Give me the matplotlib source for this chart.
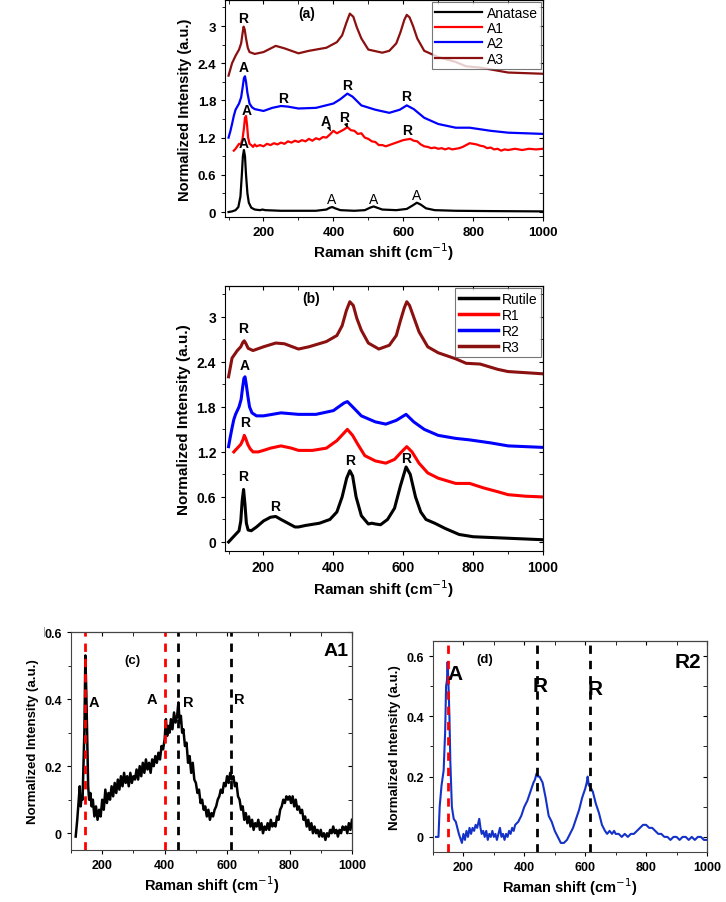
import matplotlib
matplotlib.use('Agg')
import matplotlib.pyplot as plt
from matplotlib.ticker import MultipleLocator, FuncFormatter

plt.rcParams['font.family'] = ['Liberation Sans', 'DejaVu Sans']

# ---- panel (a) ----
anatase_x = [100, 110, 120, 128, 134, 138, 141, 144, 147, 150, 154, 158, 165, 175, 190, 197, 205, 250, 300, 350,
             380, 390, 397, 405, 420, 460, 490, 505, 515, 525, 540, 580, 610, 625, 639, 650, 665, 690, 750, 850, 1000]
anatase_y = [0.0, 0.01, 0.03, 0.08, 0.25, 0.6, 0.9, 1.0, 0.9, 0.6, 0.3, 0.15, 0.07, 0.04, 0.03, 0.04, 0.03, 0.02, 0.02, 0.02,
             0.04, 0.07, 0.08, 0.06, 0.03, 0.02, 0.03, 0.07, 0.09, 0.07, 0.04, 0.03, 0.05, 0.10, 0.15, 0.12, 0.06, 0.03, 0.02, 0.015, 0.01]

a1_x = [115, 120, 125, 130, 135, 140, 144, 147, 150, 153, 156, 160, 165, 170, 175, 180, 190, 200, 210, 220,
        230, 240, 250, 260, 270, 280, 290, 300, 310, 320, 330, 340, 350, 360, 370, 380, 390, 400, 410, 420,
        430, 440, 450, 460, 470, 480, 490, 500, 510, 520, 530, 540, 550, 560, 570, 580, 590, 600, 610, 620,
        630, 640, 650, 660, 670, 680, 690, 700, 710, 720, 730, 740, 750, 760, 770, 780, 790, 800, 810, 820,
        830, 840, 850, 860, 870, 880, 890, 900, 920, 940, 960, 980, 1000]
a1_y = [0.99, 1.02, 1.06, 1.10, 1.09, 1.18, 1.35, 1.52, 1.55, 1.40, 1.20, 1.10, 1.08, 1.05, 1.09, 1.06, 1.08, 1.06, 1.10, 1.08,
        1.11, 1.09, 1.12, 1.10, 1.14, 1.12, 1.15, 1.13, 1.16, 1.14, 1.18, 1.15, 1.19, 1.17, 1.21, 1.20, 1.25, 1.31, 1.27, 1.30,
        1.33, 1.37, 1.32, 1.31, 1.26, 1.27, 1.20, 1.18, 1.14, 1.13, 1.08, 1.08, 1.06, 1.08, 1.10, 1.12, 1.14, 1.16, 1.17, 1.18,
        1.15, 1.14, 1.09, 1.06, 1.05, 1.03, 1.04, 1.02, 1.03, 1.01, 1.03, 1.01, 1.02, 1.03, 1.05, 1.08, 1.11, 1.10, 1.09, 1.07,
        1.06, 1.03, 1.04, 1.01, 1.02, 0.99, 1.01, 1.00, 1.02, 1.00, 1.02, 1.01, 1.02]

a2_x = [100, 105, 110, 115, 120, 130, 136, 140, 144, 147, 150, 154, 160, 167, 175, 200, 225, 250, 270, 300,
        350, 400, 420, 440, 455, 480, 520, 560, 590, 610, 630, 660, 700, 750, 790, 850, 900, 1000]
a2_y = [1.20, 1.30, 1.42, 1.55, 1.65, 1.75, 1.85, 2.00, 2.16, 2.19, 2.10, 1.92, 1.75, 1.69, 1.66, 1.63, 1.68, 1.71, 1.70, 1.67,
        1.68, 1.75, 1.82, 1.91, 1.86, 1.72, 1.65, 1.60, 1.65, 1.72, 1.66, 1.52, 1.42, 1.36, 1.36, 1.31, 1.28, 1.26]

a3_x = [100, 110, 120, 130, 136, 140, 143, 146, 150, 155, 160, 175, 200, 235, 260, 300, 330, 380, 410, 425,
        437, 447, 457, 467, 480, 500, 540, 560, 580, 592, 603, 610, 618, 628, 640, 660, 700, 750, 780, 820,
        870, 900, 1000]
a3_y = [2.20, 2.40, 2.52, 2.62, 2.72, 2.88, 2.99, 2.95, 2.80, 2.65, 2.58, 2.55, 2.58, 2.68, 2.64, 2.56, 2.60, 2.65, 2.74, 2.85,
        3.05, 3.20, 3.15, 2.98, 2.80, 2.62, 2.57, 2.60, 2.72, 2.90, 3.10, 3.18, 3.14, 3.00, 2.80, 2.60, 2.50, 2.42, 2.35, 2.33,
        2.28, 2.25, 2.23]

# ---- panel (b) ----
rutile_x = [100, 110, 120, 130, 135, 139, 143, 147, 151, 156, 165, 180, 200, 220, 235, 250, 270, 290, 300, 320,
            360, 390, 410, 425, 438, 447, 455, 465, 480, 500, 510, 520, 535, 555, 575, 592, 608, 620, 635, 650,
            665, 690, 720, 760, 800, 900, 1000]
rutile_y = [0.0, 0.05, 0.10, 0.15, 0.28, 0.55, 0.70, 0.50, 0.25, 0.16, 0.15, 0.20, 0.28, 0.33, 0.34, 0.30, 0.25, 0.20, 0.20, 0.22,
            0.25, 0.30, 0.40, 0.60, 0.85, 0.95, 0.88, 0.60, 0.35, 0.24, 0.25, 0.24, 0.23, 0.30, 0.45, 0.75, 1.00, 0.90, 0.60, 0.40,
            0.30, 0.25, 0.18, 0.10, 0.07, 0.05, 0.03]

r1_x = [115, 125, 135, 141, 145, 149, 155, 162, 170, 185, 200, 220, 250, 280, 300, 340, 380, 410, 430, 440,
        455, 470, 490, 520, 550, 575, 595, 610, 625, 645, 670, 700, 750, 790, 830, 870, 900, 950, 1000]
r1_y = [1.20, 1.25, 1.30, 1.36, 1.42, 1.38, 1.30, 1.24, 1.20, 1.20, 1.22, 1.25, 1.28, 1.25, 1.22, 1.22, 1.25, 1.35, 1.45, 1.50,
        1.42, 1.30, 1.15, 1.08, 1.05, 1.10, 1.20, 1.27, 1.20, 1.05, 0.92, 0.85, 0.78, 0.78, 0.72, 0.67, 0.63, 0.61, 0.60]

r2_x = [100, 105, 110, 115, 120, 130, 136, 140, 144, 147, 150, 155, 160, 167, 180, 200, 250, 300, 350, 400,
        430, 440, 455, 480, 520, 550, 580, 608, 630, 660, 700, 750, 790, 850, 900, 1000]
r2_y = [1.27, 1.40, 1.52, 1.63, 1.70, 1.80, 1.90, 2.05, 2.18, 2.20, 2.12, 1.95, 1.80, 1.72, 1.68, 1.68, 1.72, 1.70, 1.70, 1.75,
        1.85, 1.87, 1.80, 1.68, 1.60, 1.57, 1.62, 1.70, 1.60, 1.50, 1.42, 1.38, 1.36, 1.32, 1.28, 1.26]

r3_x = [100, 110, 125, 135, 141, 145, 150, 156, 170, 200, 235, 260, 300, 330, 380, 410, 425, 437, 447, 457,
        467, 480, 500, 530, 560, 580, 592, 603, 610, 618, 628, 645, 670, 700, 750, 780, 820, 870, 900, 1000]
r3_y = [2.20, 2.45, 2.55, 2.60, 2.66, 2.68, 2.64, 2.58, 2.55, 2.60, 2.65, 2.64, 2.57, 2.60, 2.67, 2.75, 2.88, 3.08, 3.20, 3.15,
        2.98, 2.82, 2.65, 2.57, 2.62, 2.75, 2.95, 3.12, 3.20, 3.15, 3.02, 2.80, 2.60, 2.52, 2.44, 2.38, 2.37, 2.30, 2.27, 2.24]

# ---- panel (c): A1 ----
c_x = [115, 120, 124, 128, 131, 134, 137, 140, 143, 146, 149, 152, 155, 158, 162, 166, 170, 175, 180, 185,
       190, 195, 200, 205, 210, 215, 220, 225, 230, 235, 240, 245, 250, 255, 260, 265, 270, 275, 280, 285,
       290, 295, 300, 305, 310, 315, 320, 325, 330, 335, 340, 345, 350, 355, 360, 365, 370, 375, 380, 385,
       390, 395, 400, 404, 408, 412, 416, 420, 425, 430, 435, 440, 444, 448, 452, 456, 460, 465, 470, 475,
       480, 485, 490, 495, 500, 505, 510, 515, 520, 525, 530, 535, 540, 545, 550, 555, 560, 565, 570, 575,
       580, 585, 590, 595, 600, 605, 610, 615, 620, 625, 630, 635, 640, 645, 650, 655, 660, 665, 670, 675,
       680, 685, 690, 695, 700, 705, 710, 715, 720, 725, 730, 735, 740, 745, 750, 755, 760, 765, 770, 775,
       780, 785, 790, 795, 800, 805, 810, 815, 820, 825, 830, 835, 840, 845, 850, 855, 860, 865, 870, 875,
       880, 885, 890, 895, 900, 905, 910, 915, 920, 925, 930, 935, 940, 945, 950, 955, 960, 965, 970, 975,
       980, 985, 990, 995, 1000]
c_y = [-0.01, 0.04, 0.09, 0.14, 0.08, 0.11, 0.10, 0.20, 0.31, 0.53, 0.42, 0.28, 0.14, 0.10, 0.12, 0.08, 0.10, 0.05, 0.08, 0.04,
       0.07, 0.05, 0.10, 0.07, 0.13, 0.09, 0.12, 0.10, 0.14, 0.11, 0.15, 0.12, 0.16, 0.13, 0.17, 0.14, 0.18, 0.15, 0.17, 0.14,
       0.18, 0.15, 0.17, 0.16, 0.19, 0.16, 0.20, 0.17, 0.21, 0.18, 0.22, 0.19, 0.21, 0.18, 0.22, 0.20, 0.23, 0.21, 0.24, 0.22,
       0.26, 0.25, 0.28, 0.34, 0.29, 0.32, 0.30, 0.34, 0.31, 0.36, 0.33, 0.35, 0.39, 0.33, 0.35, 0.30, 0.31, 0.26, 0.27, 0.21,
       0.23, 0.18, 0.21, 0.16, 0.15, 0.12, 0.13, 0.09, 0.10, 0.07, 0.08, 0.05, 0.07, 0.04, 0.06, 0.05, 0.07, 0.08, 0.10, 0.11,
       0.13, 0.12, 0.15, 0.14, 0.17, 0.15, 0.18, 0.16, 0.17, 0.14, 0.15, 0.11, 0.10, 0.07, 0.08, 0.04, 0.06, 0.03, 0.05, 0.02,
       0.04, 0.01, 0.03, 0.02, 0.04, 0.01, 0.03, 0.00, 0.02, 0.01, 0.03, 0.01, 0.04, 0.02, 0.03, 0.02, 0.05, 0.04, 0.07, 0.08,
       0.10, 0.09, 0.11, 0.10, 0.11, 0.09, 0.11, 0.08, 0.10, 0.07, 0.08, 0.06, 0.07, 0.04, 0.05, 0.02, 0.04, 0.01, 0.03, 0.00,
       0.02, 0.00, 0.01, -0.01, 0.01, -0.01, 0.00, -0.02, 0.00, -0.01, 0.01, 0.00, 0.02, 0.00, 0.01, -0.01, 0.01, 0.00, 0.02, 0.01,
       0.02, 0.00, 0.03, 0.01, 0.04]

# ---- panel (d): R2 ----
d_x = [110, 118, 122, 128, 135, 140, 143, 146, 148, 151, 154, 157, 162, 168, 175, 185, 195, 200, 205, 210,
       215, 220, 225, 230, 235, 240, 245, 252, 256, 260, 265, 270, 275, 280, 285, 290, 295, 300, 305, 310,
       315, 320, 325, 330, 335, 340, 345, 350, 355, 360, 365, 370, 380, 390, 400, 410, 420, 430, 435, 440,
       445, 450, 460, 470, 480, 490, 500, 510, 520, 530, 540, 550, 560, 570, 580, 590, 600, 605, 608, 612,
       615, 625, 635, 645, 655, 665, 672, 680, 688, 695, 700, 710, 720, 730, 740, 750, 760, 770, 780, 790,
       800, 810, 820, 830, 840, 850, 860, 870, 880, 890, 900, 910, 920, 930, 940, 950, 960, 970, 980, 990, 1000]
d_y = [0.0, 0.0, 0.10, 0.17, 0.22, 0.35, 0.50, 0.52, 0.58, 0.50, 0.40, 0.25, 0.10, 0.06, 0.05, 0.01, -0.02, 0.01, -0.01, 0.02,
       0.00, 0.03, 0.01, 0.03, 0.02, 0.04, 0.03, 0.06, 0.03, 0.01, 0.02, 0.0, 0.02, -0.01, 0.01, 0.0, 0.02, 0.0, 0.01, -0.01,
       0.01, 0.03, 0.00, 0.01, -0.01, 0.01, 0.00, 0.02, 0.01, 0.03, 0.02, 0.04, 0.05, 0.07, 0.10, 0.12, 0.15, 0.18, 0.19, 0.21,
       0.20, 0.20, 0.18, 0.13, 0.07, 0.05, 0.02, 0.0, -0.02, -0.02, -0.01, 0.01, 0.03, 0.06, 0.09, 0.13, 0.16, 0.18, 0.20, 0.17,
       0.17, 0.15, 0.11, 0.08, 0.04, 0.02, 0.01, 0.02, 0.01, 0.02, 0.01, 0.01, 0.0, 0.01, 0.0, 0.01, 0.01, 0.02, 0.03, 0.04,
       0.04, 0.03, 0.03, 0.02, 0.01, 0.01, 0.0, 0.0, -0.01, 0.0, 0.0, -0.01, 0.0, 0.0, -0.01, 0.0, -0.01, 0.0, 0.0, -0.01, -0.01]

DARKRED = '#8b1010'


def style_axes(ax, xmaj, ymaj, ymin_step, tick_size, fmt):
	ax.set_xlim(90, 1000)
	ax.xaxis.set_major_locator(MultipleLocator(xmaj))
	ax.xaxis.set_minor_locator(MultipleLocator(xmaj / 2))
	ax.yaxis.set_major_locator(MultipleLocator(ymaj))
	ax.yaxis.set_minor_locator(MultipleLocator(ymin_step))
	ax.yaxis.set_major_formatter(FuncFormatter(fmt))
	ax.tick_params(which='both', direction='out', labelsize=tick_size)
	ax.tick_params(which='major', length=3)
	ax.tick_params(which='minor', length=2)
	for lab in ax.get_xticklabels() + ax.get_yticklabels():
		lab.set_fontweight('bold')
	sx = ax.secondary_xaxis('top')
	sx.xaxis.set_major_locator(MultipleLocator(xmaj))
	sx.xaxis.set_minor_locator(MultipleLocator(xmaj / 2))
	sx.tick_params(which='both', direction='in', labeltop=False, length=3)
	sy = ax.secondary_yaxis('right')
	sy.yaxis.set_major_locator(MultipleLocator(ymaj))
	sy.yaxis.set_minor_locator(MultipleLocator(ymin_step))
	sy.tick_params(which='both', direction='in', labelright=False, length=3)


def fmt_g(v, pos):
	return '%g' % round(v, 2)


fig = plt.figure(figsize=(7.26, 9.03), dpi=100)

# (a)
ax = fig.add_axes([0.310, 0.7586, 0.438, 0.2403])
ax.plot(anatase_x, anatase_y, color='black', lw=1.6, label='Anatase')
ax.plot(a1_x, a1_y, color='red', lw=1.6, label='A1')
ax.plot(a2_x, a2_y, color='blue', lw=1.6, label='A2')
ax.plot(a3_x, a3_y, color=DARKRED, lw=1.6, label='A3')
ax.set_ylim(-0.08, 3.42)
style_axes(ax, 200, 0.6, 0.3, 9.5, fmt_g)
ax.set_xlabel('Raman shift (cm$^{-1}$)', fontsize=11, fontweight='bold', labelpad=2)
ax.set_ylabel('Normalized Intensity (a.u.)', fontsize=10.5, fontweight='bold', labelpad=4)
leg = ax.legend(loc='upper right', fontsize=10, frameon=True, fancybox=False, edgecolor='#555555',
                handlelength=3.4, labelspacing=0.1, borderpad=0.25, borderaxespad=0.15, handletextpad=0.3)
leg.get_frame().set_linewidth(0.8)
bold = dict(fontweight='bold', fontsize=10, ha='center', va='bottom')
ax.text(323, 3.1, '(a)', **bold)
ax.text(143, 3.02, 'R', **bold)
ax.text(143, 2.22, 'A', **bold)
ax.text(255, 1.72, 'R', **bold)
ax.text(438, 1.93, 'R', **bold)
ax.text(607, 1.76, 'R', **bold)
ax.text(610, 1.21, 'R', **bold)
ax.text(151, 1.53, 'A', **bold)
ax.text(143, 1.0, 'A', **bold)
ax.annotate('A', xy=(392, 1.31), xytext=(378, 1.36), fontsize=10, fontweight='bold', ha='center', va='bottom',
            arrowprops=dict(arrowstyle='-|>', color='black', lw=0.8, mutation_scale=5, shrinkA=0, shrinkB=0))
ax.annotate('R', xy=(440, 1.36), xytext=(430, 1.42), fontsize=10, fontweight='bold', ha='center', va='bottom',
            arrowprops=dict(arrowstyle='-|>', color='black', lw=0.8, mutation_scale=5, shrinkA=0, shrinkB=0))
for px, py in [(395, 0.09), (515, 0.1), (639, 0.16)]:
	ax.text(px, py, 'A', fontsize=10, ha='center', va='bottom')

# (b)
ax = fig.add_axes([0.310, 0.3887, 0.438, 0.2935])
ax.plot(rutile_x, rutile_y, color='black', lw=2.2, label='Rutile')
ax.plot(r1_x, r1_y, color='red', lw=2.2, label='R1')
ax.plot(r2_x, r2_y, color='blue', lw=2.2, label='R2')
ax.plot(r3_x, r3_y, color=DARKRED, lw=2.2, label='R3')
ax.set_ylim(-0.12, 3.41)
style_axes(ax, 200, 0.6, 0.3, 10, fmt_g)
ax.set_xlabel('Raman shift (cm$^{-1}$)', fontsize=11, fontweight='bold', labelpad=2)
ax.set_ylabel('Normalized Intensity (a.u.)', fontsize=11, fontweight='bold', labelpad=4)
leg = ax.legend(loc='upper right', fontsize=10, frameon=True, fancybox=False, edgecolor='#555555',
                handlelength=2.8, labelspacing=0.15, borderpad=0.25, borderaxespad=0.15, handletextpad=0.3)
leg.get_frame().set_linewidth(0.8)
for h in leg.get_lines():
	h.set_linewidth(2.5)
ax.text(335, 3.15, '(b)', **bold)
ax.text(143, 2.76, 'R', **bold)
ax.text(147, 2.26, 'A', **bold)
ax.text(147, 1.5, 'R', **bold)
ax.text(143, 0.78, 'R', **bold)
ax.text(233, 0.39, 'R', **bold)
ax.text(447, 1.0, 'R', **bold)
ax.text(608, 1.03, 'R', **bold)

# (c)
ax = fig.add_axes([0.0978, 0.0576, 0.387, 0.2414])
ax.plot(c_x, c_y, color='black', lw=1.8)
ax.set_ylim(-0.05, 0.6)
style_axes(ax, 200, 0.2, 0.1, 9, fmt_g)
ax.set_xlim(100, 1000)
for s in ax.spines.values():
	s.set_color('#444444')
for xv, col in [(146, 'red'), (400, 'red'), (442, 'black'), (612, 'black')]:
	ax.axvline(xv, color=col, ls=(0, (3, 2.5)), lw=2)
ax.set_xlabel('Raman shift (cm$^{-1}$)', fontsize=10.5, fontweight='bold', labelpad=2)
ax.set_ylabel('Normalized Intensity (a.u.)', fontsize=9.5, fontweight='bold', labelpad=4)
ax.text(297, 0.5, '(c)', fontsize=9.5, fontweight='bold', ha='center', va='bottom')
ax.text(950, 0.52, 'A1', fontsize=14, fontweight='bold', ha='center', va='bottom')
ax.text(175, 0.37, 'A', fontsize=10.5, fontweight='bold', ha='center', va='bottom')
ax.text(360, 0.38, 'A', fontsize=10.5, fontweight='bold', ha='center', va='bottom')
ax.text(475, 0.37, 'R', fontsize=10.5, fontweight='bold', ha='center', va='bottom')
ax.text(638, 0.38, 'R', fontsize=10.5, fontweight='bold', ha='center', va='bottom')

# (d)
ax = fig.add_axes([0.5964, 0.0554, 0.3774, 0.2337])
ax.plot(d_x, d_y, color='#1432c8', lw=1.5)
ax.set_ylim(-0.05, 0.65)
style_axes(ax, 200, 0.2, 0.1, 9, fmt_g)
ax.set_xlim(100, 1000)
for s in ax.spines.values():
	s.set_color('#444444')
for xv, col in [(148, 'red'), (441, 'black'), (616, 'black')]:
	ax.axvline(xv, color=col, ls=(0, (3, 2.5)), lw=2)
ax.set_xlabel('Raman shift (cm$^{-1}$)', fontsize=10.5, fontweight='bold', labelpad=2)
ax.set_ylabel('Normalized Intensity (a.u.)', fontsize=9.5, fontweight='bold', labelpad=4)
ax.text(271, 0.57, '(d)', fontsize=9.5, fontweight='bold', ha='center', va='bottom')
ax.text(938, 0.55, 'R2', fontsize=15, fontweight='bold', ha='center', va='bottom')
ax.text(172, 0.51, 'A', fontsize=15, fontweight='bold', ha='center', va='bottom')
ax.text(451, 0.47, 'R', fontsize=15, fontweight='bold', ha='center', va='bottom')
ax.text(634, 0.46, 'R', fontsize=15, fontweight='bold', ha='center', va='bottom')

fig.text(44 / 726, 1 - 632 / 903, '|', color='#999999', fontsize=8, ha='center', va='center')

fig.savefig('out.png', dpi=100)
